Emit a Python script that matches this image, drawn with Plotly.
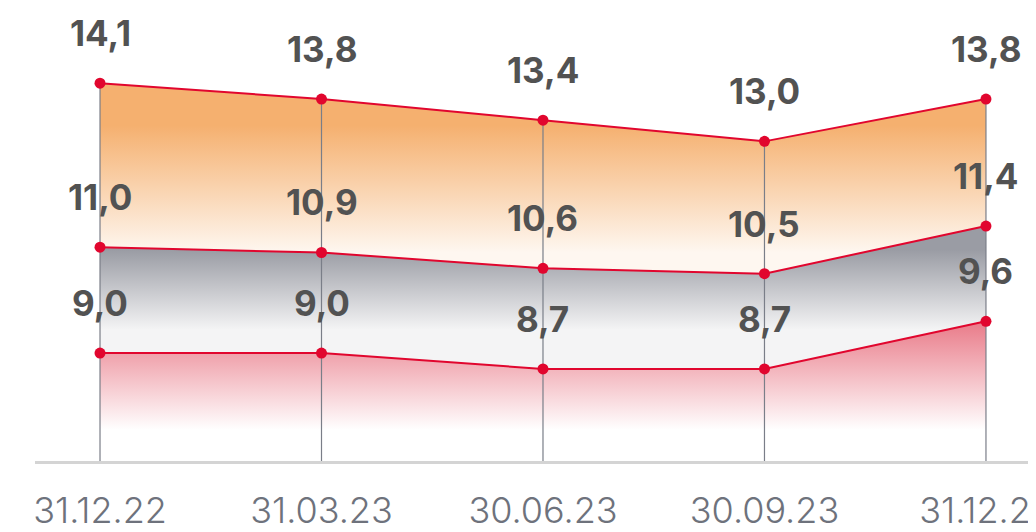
import plotly.graph_objects as go

dates = ["31.12.22", "31.03.23", "30.06.23", "30.09.23", "31.12.23"]
bottom_vals = [9.0, 9.0, 8.7, 8.7, 9.6]
middle_vals = [11.0, 10.9, 10.6, 10.5, 11.4]
top_vals = [14.1, 13.8, 13.4, 13.0, 13.8]

y_min, y_max = 6.96, 15.52
red = "#e1062e"
label_font = dict(family="Inter", size=35, color="#525252", weight=700)

fig = go.Figure()

# gradient fills (drawn first, lines go on top)
fig.add_trace(go.Scatter(
    x=dates, y=bottom_vals, mode="none", fill="tozeroy",
    fillgradient=dict(type="vertical", start=7.55, stop=9.6,
                      colorscale=[[0, "#ffffff"], [1, "#e97a88"]]),
))
fig.add_trace(go.Scatter(
    x=dates, y=middle_vals, mode="none", fill="tonexty",
    fillgradient=dict(type="vertical", start=9.44, stop=10.95,
                      colorscale=[[0, "#f4f4f5"], [1, "#9a9ca4"]]),
))
fig.add_trace(go.Scatter(
    x=dates, y=top_vals, mode="none", fill="tonexty",
    fillgradient=dict(type="vertical", start=10.9, stop=13.3,
                      colorscale=[[0, "#fef7f0"], [1, "#f5b06f"]]),
))

# thin vertical guides from the axis up to the top series
vx, vy = [], []
for d, t in zip(dates, top_vals):
    vx += [d, d, None]
    vy += [y_min, t, None]
fig.add_trace(go.Scatter(x=vx, y=vy, mode="lines",
                         line=dict(color="#7a7e88", width=1.2)))

for vals in (bottom_vals, middle_vals, top_vals):
    fig.add_trace(go.Scatter(
        x=dates, y=vals, mode="lines+markers",
        line=dict(color=red, width=2),
        marker=dict(color=red, size=11),
    ))
    for d, v in zip(dates, vals):
        fig.add_annotation(x=d, y=v, text=f"{v:.1f}".replace(".", ","),
                           showarrow=False, yshift=50, font=label_font)

fig.update_traces(hoverinfo="skip")
# page body adds an 8px offset, so margins are trimmed to compensate
fig.update_layout(
    width=1036, height=532,
    margin=dict(l=27, r=0, t=0, b=79),
    plot_bgcolor="white", paper_bgcolor="white",
    showlegend=False,
)
fig.update_xaxes(
    type="category", range=[-0.2935, 4.262], automargin=False,
    showgrid=False, zeroline=False,
    showline=True, linecolor="#d4d4d4", linewidth=3,
    ticks="outside", ticklen=16, tickcolor="rgba(0,0,0,0)",
    tickfont=dict(family="Inter", size=36, color="#6e727c", weight=300),
)
fig.update_yaxes(range=[y_min, y_max], visible=False, automargin=False)

fig.write_html("out.html")
